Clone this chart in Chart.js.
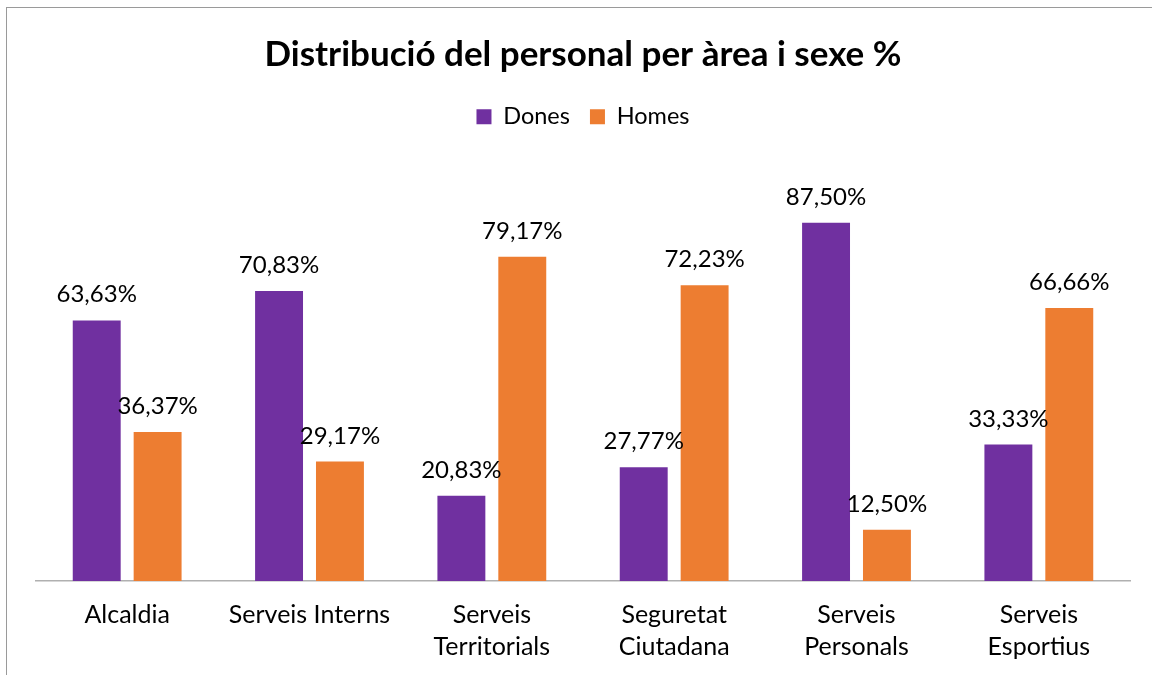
<!DOCTYPE html>
<html>
<head>
<meta charset="utf-8">
<script src="https://cdn.jsdelivr.net/npm/chart.js@4"></script>
<style>
  html, body { margin: 0; padding: 0; background: #fff; }
  #wrap { position: relative; width: 1152px; height: 675px; overflow: hidden; }
  #frame { position: absolute; left: 6px; top: 7px; width: 1200px; height: 700px; border-top: 1px solid #9a9a9a; border-left: 1px solid #9a9a9a; }
  canvas { position: absolute; left: 0; top: 0; }
</style>
</head>
<body>
<div id="wrap">
  <div id="frame"></div>
  <canvas id="chart" width="1152" height="675"></canvas>
</div>
<script>
// dades
const categories = [["Alcaldia"], ["Serveis Interns"], ["Serveis", "Territorials"], ["Seguretat", "Ciutadana"], ["Serveis", "Personals"], ["Serveis", "Esportius"]];
const dones = [63.63, 70.83, 20.83, 27.77, 87.50, 33.33];
const homes = [36.37, 29.17, 79.17, 72.23, 12.50, 66.66];
const seriesNames = ["Dones", "Homes"];
const seriesColors = ['#7030A0', '#ED7D31'];

const FONT = 'Lato, "Liberation Sans", sans-serif';

// etiquetes de valor sobre cada barra
const valueLabels = {
  id: 'valueLabels',
  afterDatasetsDraw(chart) {
    const ctx = chart.ctx;
    ctx.save();
    ctx.font = '24px ' + FONT;
    ctx.fillStyle = '#000';
    ctx.textAlign = 'center';
    ctx.textBaseline = 'alphabetic';
    chart.data.datasets.forEach((ds, i) => {
      chart.getDatasetMeta(i).data.forEach((bar, j) => {
        const txt = ds.data[j].toFixed(2).replace('.', ',') + '%';
        ctx.fillText(txt, bar.x, bar.y - 18);
      });
    });
    ctx.restore();
  }
};

// espai extra sota la llegenda
const legendGap = {
  id: 'legendGap',
  beforeInit(chart) {
    const fit = chart.legend.fit;
    chart.legend.fit = function() { fit.bind(chart.legend)(); this.height += 33; };
  }
};

new Chart(document.getElementById('chart').getContext('2d'), {
  type: 'bar',
  data: {
    labels: categories,
    datasets: [
      { label: seriesNames[0], data: dones, backgroundColor: seriesColors[0], borderWidth: 0 },
      { label: seriesNames[1], data: homes, backgroundColor: seriesColors[1], borderWidth: 0 }
    ]
  },
  options: {
    responsive: false, animation: false,
    categoryPercentage: 0.668, barPercentage: 0.787,
    layout: { padding: { left: 36, right: 22, top: 0, bottom: 12 } },
    plugins: {
      title: { display: true, text: 'Distribució del personal per àrea i sexe %', color: '#000', font: { family: FONT, size: 35, weight: 'bold', lineHeight: 1.2 }, padding: { top: 34, bottom: 9 } },
      legend: { position: 'top', labels: { color: '#000', boxWidth: 15, boxHeight: 15, padding: 20, font: { family: FONT, size: 23.5 } } },
      tooltip: { enabled: false }
    },
    scales: {
      x: {
        grid: { display: false, drawTicks: false }, border: { color: '#b0b0b0', width: 1.5 },
        ticks: { color: '#000', padding: 18, font: { family: FONT, size: 25, lineHeight: 1.28 } },
        afterFit(scale) { scale.height -= 18; }
      },
      y: { display: false, min: 0, max: 100 }
    }
  },
  plugins: [valueLabels, legendGap]
});
</script>
</body>
</html>
